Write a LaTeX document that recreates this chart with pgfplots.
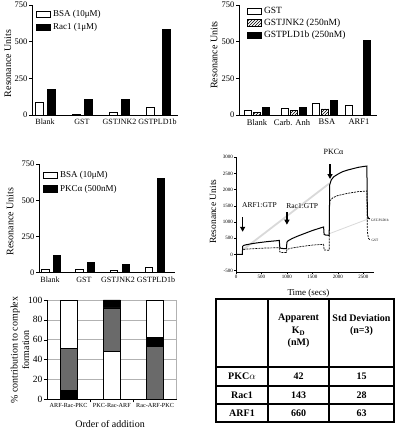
\documentclass[border=0pt]{standalone}
\usepackage{pgfplots}
\pgfplotsset{compat=1.18}
\usepackage{fontspec}
\setmainfont{Liberation Serif}
\usetikzlibrary{patterns,arrows.meta}
\definecolor{midgray}{HTML}{6A6A6A}
\pgfplotsset{
  prism/.style={
    scale only axis,
    axis x line*=bottom, axis y line*=left,
    axis line style={line width=0.9pt},
    ymin=0, ymax=750, ytick={0,250,500,750},
    tick align=outside, ytick pos=left,
    major tick length=3pt,
    ytick style={line width=0.9pt, black},
    xtick style={draw=none},
    /pgf/number format/assume math mode=true,
    yticklabel style={font=\fontsize{8.5}{9}\selectfont, inner sep=1.5pt},
    xticklabel style={font=\fontsize{8}{9}\selectfont, inner sep=1pt},
    ylabel style={font=\fontsize{10}{11}\selectfont},
    legend style={draw=none, fill=none, font=\fontsize{9}{9}\selectfont, anchor=north west, inner sep=0pt, row sep=1.5pt, cells={anchor=west}},
    legend image code/.code={\draw[##1] (0pt,-3.2pt) rectangle (14pt,3.2pt);},
    clip=false,
  },
  wbar/.style={ybar, bar shift=0pt, fill=white, draw=black, line width=0.8pt},
  kbar/.style={ybar, bar shift=0pt, fill=black, draw=black, line width=0.8pt},
}
\begin{document}
\begin{tikzpicture}
\path[use as bounding box] (0pt,0pt) rectangle (400pt,431pt);

% Panel 1
\begin{axis}[prism, at={(32pt,316pt)}, anchor=south west, width=146pt, height=110pt,
  xmin=32, xmax=178,
  xtick={45,82,119.5,157.5}, xticklabels={Blank,GST,GSTJNK2,GSTPLD1b},
  ylabel={Resonance Units}, ylabel style={at={(axis description cs:-0.165,0.47)}, anchor=center},
  legend style={at={(axis description cs:0.028,0.97)}},
]
\addplot[wbar, bar width=8] coordinates {(39,85) (76,5) (113,16) (150,55)};
\addlegendentry{BSA (10μM)}
\addplot[kbar, bar width=8] coordinates {(51.5,177) (88.5,108) (125.5,108) (166,585)};
\addlegendentry{Rac1 (1μM)}
\end{axis}

% Panel 2
\begin{axis}[prism, at={(239pt,316pt)}, anchor=south west, width=138pt, height=110pt,
  xmin=239, xmax=377,
  xtick={257,292,327,359}, xticklabels={Blank,Carb. Anh,BSA,ARF1},
  xticklabel style={font=\fontsize{8.5}{9}\selectfont},
  ylabel={Resonance Units}, ylabel style={at={(axis description cs:-0.181,0.545)}, anchor=center},
  legend style={at={(axis description cs:0.058,1.0)}, font=\fontsize{9.5}{9.5}\selectfont, row sep=0pt},
]
\addplot[wbar, bar width=7] coordinates {(248,29) (285,43) (316,77) (349,68)};
\addlegendentry{GST}
\addplot[ybar, bar shift=0pt, bar width=7, pattern=north east lines, draw=black, line width=0.8pt] coordinates {(257,20) (294,29) (325,41)};
\addlegendentry{GSTJNK2 (250nM)}
\addplot[kbar, bar width=7] coordinates {(266,52) (303,52) (334,97) (367,508)};
\addlegendentry{GSTPLD1b (250nM)}
\end{axis}

% Panel 3
\begin{axis}[prism, at={(39pt,158.3pt)}, anchor=south west, width=136pt, height=108.7pt,
  xmin=39, xmax=175,
  xtick={50,84,118,156}, xticklabels={Blank,GST,GSTJNK2,GSTPLD1b},
  ylabel={Resonance Units}, ylabel style={at={(axis description cs:-0.213,0.47)}, anchor=center},
  legend style={at={(axis description cs:0.03,0.95)}},
]
\addplot[wbar, bar width=7.5] coordinates {(45.5,23) (79.5,21) (114,14) (149,37)};
\addlegendentry{BSA (10μM)}
\addplot[kbar, bar width=7.5] coordinates {(57,122) (91,71) (126,58) (161,651)};
\addlegendentry{PKCα (500nM)}
\end{axis}

% Panel 4: sensorgram
\begin{axis}[scale only axis, at={(236pt,158.7pt)}, anchor=south west, width=137.5pt, height=115pt,
  xmin=0, xmax=2700, ymin=-550, ymax=3000,
  axis x line*=bottom, axis y line*=left, axis line style={line width=0.6pt},
  xtick={0,500,1000,1500,2000,2500}, ytick={-500,0,500,1000,1500,2000,2500,3000},
  tick align=outside, major tick length=2pt, tick style={black, line width=0.5pt},
  ticklabel style={font=\fontsize{5}{5}\selectfont, inner sep=1pt},
  /pgf/number format/assume math mode=true, /pgf/number format/1000 sep={},
  xlabel={Time (secs)}, xlabel style={font=\fontsize{9}{9}\selectfont, at={(axis description cs:0.527,-0.18)}, anchor=center},
  ylabel={Resonance Units}, ylabel style={font=\fontsize{9.5}{10}\selectfont, at={(axis description cs:-0.167,0.527)}, anchor=center},
  clip=false,
]
\addplot[gray!30, line width=1.8pt] coordinates {(140,150) (1830,2190)};
\addplot[gray!30, line width=0.8pt] coordinates {(1830,640) (2600,1100)};
\addplot[black, line width=0.7pt, dash pattern=on 2pt off 1pt] coordinates {
 (0,0) (125,0) (130,150) (200,165) (400,185) (600,200) (850,210) (860,80) (900,60) (990,60)
 (1000,160) (1100,200) (1300,250) (1500,290) (1720,315) (1730,140) (1830,130)
 (1840,1650) (1900,1750) (2000,1820) (2200,1890) (2400,1940) (2570,1960) (2580,700) (2600,500) (2630,450)};
\addplot[black, line width=1pt] coordinates {
 (0,0) (125,0) (130,250) (150,280) (200,300) (300,330) (400,355) (500,375) (600,395) (700,410) (800,425) (850,435)
 (860,220) (880,190) (950,180) (990,180)
 (1000,380) (1020,420) (1100,490) (1200,560) (1300,620) (1400,680) (1500,740) (1600,790) (1700,840) (1720,850)
 (1730,620) (1760,600) (1830,590)
 (1840,2150) (1870,2300) (1920,2400) (2000,2480) (2100,2560) (2200,2610) (2300,2650) (2400,2690) (2500,2715) (2570,2730)
 (2580,1200) (2600,1120) (2630,1100)};
\draw[-{Triangle[length=5pt,width=5pt]}, line width=1.2pt] (axis cs:130,1150) -- (axis cs:130,700);
\draw[-{Triangle[length=5pt,width=5pt]}, line width=1.2pt] (axis cs:1000,1300) -- (axis cs:1000,920);
\draw[-{Triangle[length=5pt,width=5pt]}, line width=1.2pt] (axis cs:1846,2780) -- (axis cs:1846,2330);
\node[font=\fontsize{7.5}{8}\selectfont] at (axis cs:460,1540) {ARF1:GTP};
\node[font=\fontsize{7.5}{8}\selectfont] at (axis cs:1300,1480) {Rac1:GTP};
\node[font=\fontsize{8}{8}\selectfont] at (axis cs:1915,3170) {PKCα};
\node[anchor=west, inner sep=0.5pt, font=\fontsize{3.5}{4}\selectfont] at (axis cs:2640,1060) {GST-PLD1b};
\node[anchor=west, inner sep=0.5pt, font=\fontsize{3.5}{4}\selectfont] at (axis cs:2650,450) {GST};
\end{axis}

% Panel 5: stacked bars
\begin{axis}[scale only axis, at={(47pt,31.7pt)}, anchor=south west, width=129.7pt, height=99.3pt,
  xmin=-0.5, xmax=2.5, ymin=0, ymax=100, ybar stacked, bar width=17pt,
  axis x line*=bottom, axis y line*=left, axis line style={line width=0.6pt},
  ytick={0,20,40,60,80,100}, ymajorgrids, grid style={gray!60, line width=0.5pt},
  tick align=outside, major tick length=3pt, ytick style={black},
  xtick={0,1,2}, xticklabels={ARF-Rac-PKC,PKC-Rac-ARF,Rac-ARF-PKC}, xtick style={draw=none},
  extra x ticks={0.5,1.5}, extra x tick labels={}, extra x tick style={xtick style={draw=black, line width=0.5pt}},
  /pgf/number format/assume math mode=true,
  yticklabel style={font=\fontsize{9.5}{10}\selectfont, inner sep=1.5pt},
  xticklabel style={font=\fontsize{6.2}{7}\selectfont, inner sep=1pt},
  ylabel={\% contribution to complex\\formation}, ylabel style={font=\fontsize{10}{11.5}\selectfont, align=center, at={(axis description cs:-0.208,0.496)}, anchor=center},
  xlabel={Order of addition}, xlabel style={font=\fontsize{10}{11}\selectfont, at={(axis description cs:0.486,-0.249)}, anchor=center},
  clip=false,
]
\addplot[fill=black, draw=black, line width=0.6pt] coordinates {(0,9.4) (1,0) (2,0)};
\addplot[fill=white, draw=black, line width=0.6pt] coordinates {(0,0) (1,48) (2,0)};
\addplot[fill=midgray, draw=black, line width=0.6pt] coordinates {(0,41.9) (1,44) (2,53)};
\addplot[fill=black, draw=black, line width=0.6pt] coordinates {(0,0) (1,8) (2,9.4)};
\addplot[fill=white, draw=black, line width=0.6pt] coordinates {(0,48.7) (1,0) (2,37.6)};
\draw[gray!60, line width=0.5pt] (rel axis cs:1,0) -- (rel axis cs:1,1);
\end{axis}

% Panel 6: table
\begin{scope}[x=1pt, y=1pt]
\begin{scope}[line width=1.2pt]
\draw (216,9) rectangle (394,132);
\draw (268,9) -- (268,132);
\draw (329,9) -- (329,132);
\draw (216,64) -- (394,64);
\draw (216,45) -- (394,45);
\draw (216,27) -- (394,27);
\end{scope}
\begin{scope}[every node/.style={font=\bfseries\fontsize{10}{10}\selectfont, inner sep=0pt}]
\node at (298.5,113) {Apparent};
\node at (298.5,100) {K\textsubscript{D}};
\node at (298.5,88) {(nM)};
\node at (361.5,113) {Std Deviation};
\node at (361.5,100) {(n=3)};
\node at (242,54.5) {PKC$\alpha$};
\node at (242,36) {Rac1};
\node at (242,18) {ARF1};
\node at (298.5,54.5) {42};
\node at (298.5,36) {143};
\node at (298.5,18) {660};
\node at (361.5,54.5) {15};
\node at (361.5,36) {28};
\node at (361.5,18) {63};
\end{scope}
\end{scope}
\end{tikzpicture}
\end{document}
